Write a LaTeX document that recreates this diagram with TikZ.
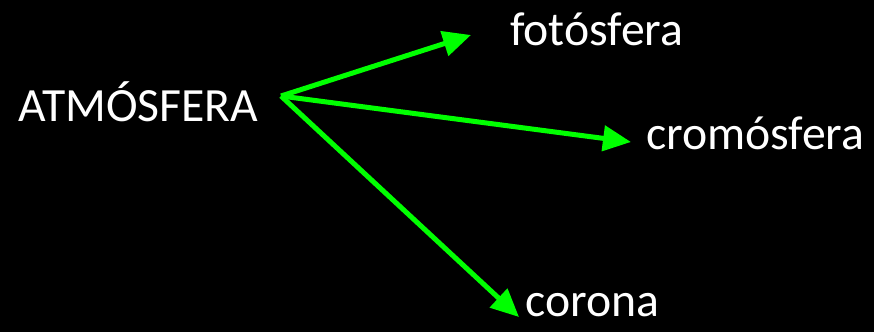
\documentclass[tikz,border=0pt]{standalone}
\usepackage{fontspec}
\setmainfont{Carlito}
\usetikzlibrary{arrows.meta}
\definecolor{arrowgreen}{RGB}{0,255,0}
\begin{document}
\begin{tikzpicture}[x=1pt,y=-1pt,
  label/.style={text=white, font=\fontsize{47.7}{54}\selectfont, inner sep=0pt, anchor=base west},
  branch/.style={draw=arrowgreen, line width=5pt, -{Triangle[length=28pt,width=25pt]}}]
  \fill[black] (0,0) rectangle (874,332);
  \useasboundingbox (0,0) rectangle (874,332);
  \node[label] (atm) at (18,121) {ATMÓSFERA};
  \node[label] (foto) at (510,45) {fotósfera};
  \node[label] (crom) at (646,149) {cromósfera};
  \node[label] (coro) at (525,316) {corona};
  \coordinate (root) at (281,96);
  \coordinate (tfoto) at (471,35);
  \coordinate (tcrom) at (631,142);
  \coordinate (tcoro) at (519,317);
  \draw[branch] (root) -- (tfoto);
  \draw[branch] (root) -- (tcrom);
  \draw[branch] (root) -- (tcoro);
\end{tikzpicture}
\end{document}
